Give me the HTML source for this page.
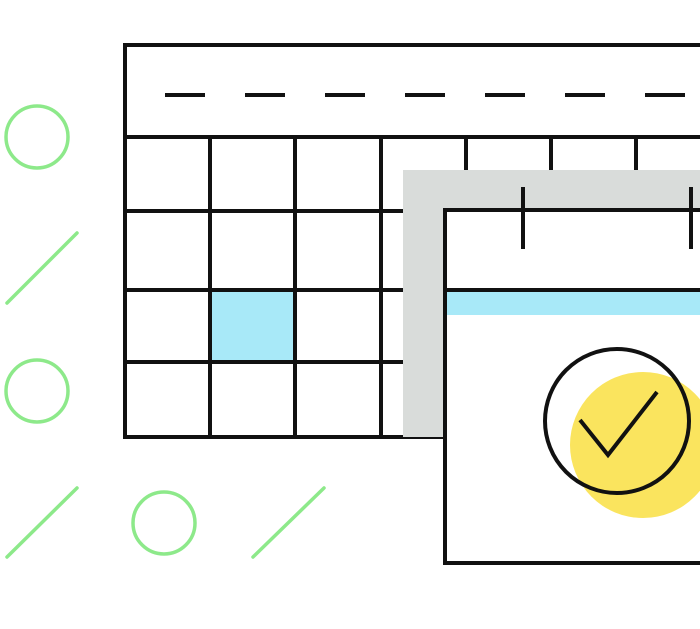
<!DOCTYPE html>
<html><head><meta charset="utf-8"><style>html,body{margin:0;padding:0;background:#fff;overflow:hidden}</style></head>
<body>
<svg width="700" height="624" viewBox="0 0 700 624" xmlns="http://www.w3.org/2000/svg">
<rect width="700" height="624" fill="#fff"/>
<!-- green decorations -->
<g fill="none" stroke="#8de98a" stroke-width="3.5" stroke-linecap="round">
<circle cx="37" cy="137" r="31"/>
<circle cx="37" cy="391" r="31"/>
<circle cx="164" cy="523" r="31"/>
<line x1="7" y1="303" x2="77" y2="233"/>
<line x1="7" y1="557" x2="77" y2="488"/>
<line x1="253" y1="557" x2="324" y2="488"/>
</g>
<!-- big calendar -->
<rect x="212" y="292" width="81" height="68" fill="#a8e9f8"/>
<g stroke="#111" stroke-width="4" fill="none">
<rect x="125" y="45" width="600" height="392"/>
<line x1="125" y1="137" x2="700" y2="137"/>
<line x1="125" y1="211" x2="700" y2="211"/>
<line x1="125" y1="290" x2="700" y2="290"/>
<line x1="125" y1="362" x2="700" y2="362"/>
<line x1="210" y1="137" x2="210" y2="437"/>
<line x1="295" y1="137" x2="295" y2="437"/>
<line x1="381" y1="137" x2="381" y2="437"/>
<line x1="466" y1="137" x2="466" y2="437"/>
<line x1="551" y1="137" x2="551" y2="437"/>
<line x1="636" y1="137" x2="636" y2="437"/>
<line x1="165" y1="95" x2="700" y2="95" stroke-dasharray="40 40"/>
</g>
<!-- gray shadow -->
<rect x="403" y="170" width="300" height="267" fill="#d9dcda"/>
<!-- small calendar -->
<rect x="445" y="210" width="300" height="353" fill="#fff" stroke="#111" stroke-width="4"/>
<rect x="447" y="292" width="260" height="23" fill="#a8e9f8"/>
<line x1="445" y1="290" x2="700" y2="290" stroke="#111" stroke-width="4"/>
<line x1="523" y1="187" x2="523" y2="249" stroke="#111" stroke-width="4"/>
<line x1="691" y1="187" x2="691" y2="249" stroke="#111" stroke-width="4"/>
<circle cx="643" cy="445" r="73" fill="#fae45e"/>
<circle cx="617" cy="421" r="72" fill="none" stroke="#111" stroke-width="4"/>
<polyline points="580,420 608,455 657,392" fill="none" stroke="#111" stroke-width="4"/>
</svg>
</body></html>
